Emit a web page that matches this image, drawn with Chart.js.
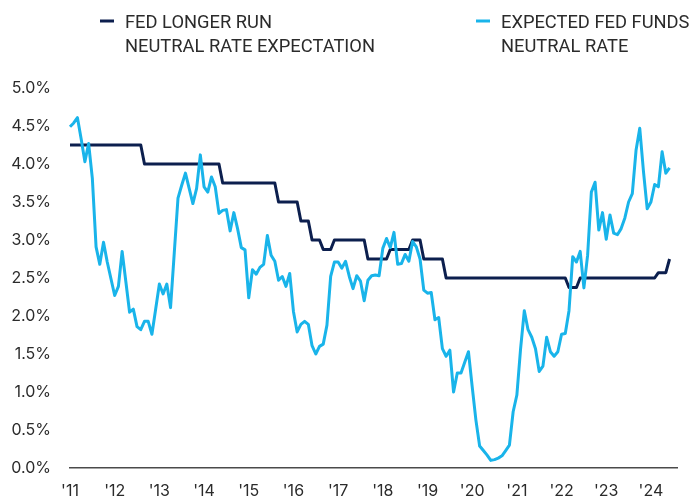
<!DOCTYPE html>
<html>
<head>
<meta charset="utf-8">
<script src="https://cdn.jsdelivr.net/npm/chart.js@4.4.1/dist/chart.umd.min.js"></script>
<style>
  html, body { margin: 0; padding: 0; background: #ffffff; }
  #wrap { width: 691px; height: 500px; position: relative; }
</style>
</head>
<body>
<div id="wrap"><canvas id="c" width="691" height="500"></canvas></div>
<script>
// ---- DATA (monthly, Jan 2011 - Jun 2024) ----
const startYear = 2011;
const seriesNames = ["FED LONGER RUN NEUTRAL RATE EXPECTATION", "EXPECTED FED FUNDS NEUTRAL RATE"];
const yearTickLabels = ["'11","'12","'13","'14","'15","'16","'17","'18","'19","'20","'21","'22","'23","'24"];

const fedLongerRun = [
  4.25,4.25,4.25,4.25,4.25,4.25,4.25,4.25,4.25,4.25,4.25,4.25,          // 2011
  4.25,4.25,4.25,4.25,4.25,4.25,4.25,4.25,4.0,4.0,4.0,4.0,              // 2012
  4.0,4.0,4.0,4.0,4.0,4.0,4.0,4.0,4.0,4.0,4.0,4.0,                      // 2013
  4.0,4.0,4.0,4.0,4.0,3.75,3.75,3.75,3.75,3.75,3.75,3.75,               // 2014
  3.75,3.75,3.75,3.75,3.75,3.75,3.75,3.75,3.5,3.5,3.5,3.5,              // 2015
  3.5,3.5,3.25,3.25,3.25,3.0,3.0,3.0,2.875,2.875,2.875,3.0,             // 2016
  3.0,3.0,3.0,3.0,3.0,3.0,3.0,3.0,2.75,2.75,2.75,2.75,                  // 2017
  2.75,2.75,2.875,2.875,2.875,2.875,2.875,2.875,3.0,3.0,3.0,2.75,       // 2018
  2.75,2.75,2.75,2.75,2.75,2.5,2.5,2.5,2.5,2.5,2.5,2.5,                 // 2019
  2.5,2.5,2.5,2.5,2.5,2.5,2.5,2.5,2.5,2.5,2.5,2.5,                      // 2020
  2.5,2.5,2.5,2.5,2.5,2.5,2.5,2.5,2.5,2.5,2.5,2.5,                      // 2021
  2.5,2.5,2.375,2.375,2.375,2.5,2.5,2.5,2.5,2.5,2.5,2.5,                // 2022
  2.5,2.5,2.5,2.5,2.5,2.5,2.5,2.5,2.5,2.5,2.5,2.5,                      // 2023
  2.5,2.5,2.57,2.57,2.57,2.75                                           // 2024
];

const expectedNeutral = [
  4.49,4.54,4.61,4.33,4.03,4.27,3.81,2.91,2.68,2.97,2.71,2.49,          // 2011
  2.27,2.39,2.85,2.45,2.05,2.09,1.86,1.82,1.93,1.93,1.76,2.09,          // 2012
  2.42,2.29,2.42,2.11,2.83,3.55,3.72,3.88,3.68,3.48,3.68,4.12,          // 2013
  3.70,3.63,3.83,3.70,3.35,3.39,3.40,3.12,3.36,3.15,2.90,2.87,          // 2014
  2.24,2.61,2.55,2.64,2.68,3.06,2.80,2.72,2.47,2.52,2.39,2.56,          // 2015
  2.06,1.79,1.89,1.93,1.89,1.61,1.50,1.60,1.63,1.88,2.52,2.71,          // 2016
  2.71,2.63,2.72,2.52,2.36,2.53,2.46,2.20,2.47,2.53,2.54,2.53,          // 2017
  2.89,3.02,2.90,3.10,2.68,2.69,2.81,2.72,2.98,2.91,2.75,2.34,          // 2018
  2.30,2.31,1.95,1.98,1.57,1.47,1.55,1.00,1.25,1.25,1.39,1.53,          // 2019
  1.07,0.63,0.29,0.23,0.17,0.10,0.11,0.13,0.16,0.23,0.30,0.74,          // 2020
  0.96,1.57,2.07,1.82,1.72,1.57,1.27,1.34,1.72,1.53,1.47,1.53,          // 2021
  1.76,1.77,2.07,2.78,2.71,2.85,2.37,2.80,3.63,3.76,3.13,3.36,          // 2022
  3.01,3.33,3.09,3.07,3.15,3.29,3.50,3.61,4.18,4.47,3.90,3.41,          // 2023
  3.50,3.73,3.70,4.16,3.88,3.95                                         // 2024
];

const yTickValues = [0,0.5,1,1.5,2,2.5,3,3.5,4,4.5,5];

// month categories (plus two empty trailing slots so the axis runs a little past the data)
const monthLabels = [];
for (let i = 0; i < expectedNeutral.length + 2; i++) {
  monthLabels.push((startYear + Math.floor(i / 12)) + '-' + String(i % 12 + 1).padStart(2, '0'));
}

// ---- STYLE ----
const NAVY = '#0c1f4e';
const SKY = '#19b4ea';
const TEXT = '#2b2b2b';
const FONT = 'Inter, "Noto Sans", sans-serif';

const twoLineLegend = {
  id: 'twoLineLegend',
  afterDraw(chart, args, opts) {
    const ctx = chart.ctx;
    ctx.save();
    ctx.font = opts.fontSize + 'px ' + opts.family;
    const sx = opts.refWidth / ctx.measureText(opts.refText).width;
    opts.items.forEach(item => {
      ctx.strokeStyle = item.color;
      ctx.lineWidth = 3;
      ctx.beginPath();
      ctx.moveTo(item.x, opts.markerY);
      ctx.lineTo(item.x + opts.markerLen, opts.markerY);
      ctx.stroke();
      ctx.fillStyle = TEXT;
      ctx.textBaseline = 'alphabetic';
      ctx.textAlign = 'left';
      item.lines.forEach((t, k) => {
        ctx.save();
        ctx.translate(item.x + opts.textGap, opts.baseline + k * opts.lineStep);
        ctx.scale(sx, 1);
        ctx.fillText(t, 0, 0);
        ctx.restore();
      });
    });
    ctx.restore();
  }
};

new Chart(document.getElementById('c'), {
  type: 'line',
  data: {
    labels: monthLabels,
    datasets: [
      {
        label: seriesNames[1],
        data: expectedNeutral,
        borderColor: SKY,
        backgroundColor: SKY,
        borderWidth: 3,
        pointRadius: 0,
        tension: 0,
        borderJoinStyle: 'round'
      },
      {
        label: seriesNames[0],
        data: fedLongerRun,
        borderColor: NAVY,
        backgroundColor: NAVY,
        borderWidth: 3,
        pointRadius: 0,
        tension: 0,
        borderJoinStyle: 'round'
      }
    ]
  },
  options: {
    responsive: false,
    animation: false,
    events: [],
    layout: { padding: { top: 88, right: 2, left: 0, bottom: 0 } },
    plugins: {
      legend: { display: false },
      tooltip: { enabled: false },
      twoLineLegend: {
        family: 'Roboto, "Liberation Sans", sans-serif',
        fontSize: 19,
        refText: 'FED LONGER RUN',
        refWidth: 147,
        markerY: 21,
        markerLen: 14,
        textGap: 25,
        baseline: 28,
        lineStep: 24,
        items: [
          { x: 100, color: NAVY, lines: ['FED LONGER RUN', 'NEUTRAL RATE EXPECTATION'] },
          { x: 476, color: SKY, lines: ['EXPECTED FED FUNDS', 'NEUTRAL RATE'] }
        ]
      }
    },
    scales: {
      x: {
        type: 'category',
        offset: false,
        grid: { display: false, drawTicks: false },
        border: { display: true, color: '#4a4a4a', width: 1.5 },
        ticks: {
          autoSkip: false,
          maxRotation: 0,
          minRotation: 0,
          padding: 14,
          color: TEXT,
          font: { family: FONT, size: 16 },
          callback: (v, i) => (i % 12 === 0 ? yearTickLabels[i / 12] : '')
        },
        afterFit: s => { s.height = 32; }
      },
      y: {
        min: 0,
        max: 5,
        grid: { display: false, drawTicks: false },
        border: { display: false },
        afterBuildTicks: s => { s.ticks = yTickValues.map(v => ({ value: v })); },
        ticks: {
          padding: 19,
          color: TEXT,
          font: { family: FONT, size: 16 },
          callback: v => v.toFixed(1) + '%'
        },
        afterFit: s => { s.width = 70; }
      }
    }
  },
  plugins: [twoLineLegend]
});
</script>
</body>
</html>
